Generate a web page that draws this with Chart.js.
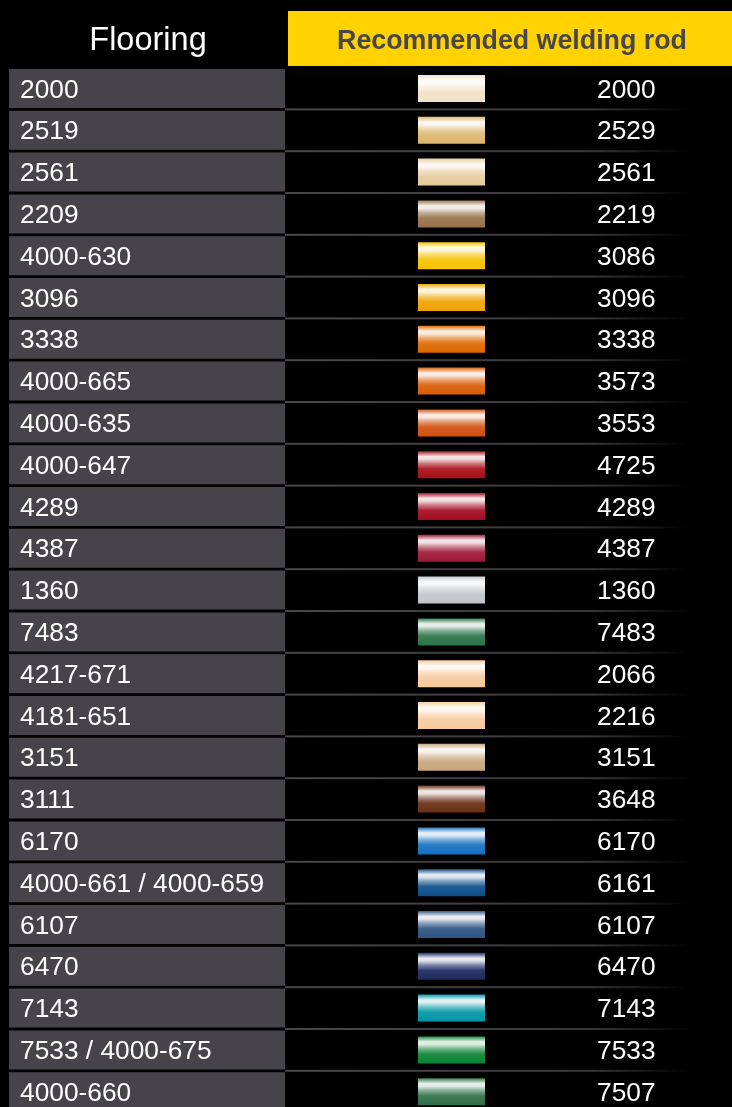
<!DOCTYPE html>
<html><head><meta charset="utf-8">
<script src="https://cdn.jsdelivr.net/npm/chart.js@4/dist/chart.umd.min.js"></script>
<style>html,body{margin:0;padding:0;background:#000;overflow:hidden}#wrap{position:relative;width:732px;height:1113px}canvas{display:block}</style>
</head><body><div id="wrap"><canvas id="c" width="732" height="1113"></canvas></div>
<script>
// ---- data ----
const headerLeft = 'Flooring';
const headerRight = 'Recommended welding rod';
const flooring = ['2000','2519','2561','2209','4000-630','3096','3338','4000-665','4000-635','4000-647','4289','4387','1360','7483','4217-671','4181-651','3151','3111','6170','4000-661 / 4000-659','6107','6470','7143','7533 / 4000-675','4000-660'];
const rods = ['2000','2529','2561','2219','3086','3096','3338','3573','3553','4725','4289','4387','1360','7483','2066','2216','3151','3648','6170','6161','6107','6470','7143','7533','7507'];
const rodColors = ['#f1e2c8','#dcb66e','#e6cb9d','#98714b','#f6c200','#efa300','#de6800','#d85d06','#d2500e','#a80f18','#a40b22','#9e1839','#c3c6c9','#2a7447','#f7c99c','#f7ca9e','#c8a67c','#6a2e13','#1570bf','#0c4e8b','#2d5484','#1b2960','#0096a6','#0a8334','#2e6f48'];

// ---- layout (not data) ----
const L = {cellL: 9, cellR: 285, swL: 418, swR: 485, numX: 597, labelX: 20,
  headTop: 11, headBot: 66, headL: 288, headR: 732};

function hexToRgb(h){h=h.replace('#','');return [0,2,4].map(i=>parseInt(h.substr(i,2),16));}
function mixWhite(hex,t){const c=hexToRgb(hex);return 'rgb('+c.map(v=>Math.round(v+(255-v)*t)).join(',')+')';}

function swatchFill(ctx){
  if(ctx.type!=='data') return '#888';
  const chart=ctx.chart, y=chart.scales.y;
  if(!y || !chart.chartArea) return rodColors[ctx.dataIndex];
  const c=y.getPixelForValue(ctx.dataIndex);
  const top=c-13.5, bot=c+13.5;
  const g=chart.ctx.createLinearGradient(0,top,0,bot);
  const base=rodColors[ctx.dataIndex];
  const stops=[[0,0.05],[0.07,0.35],[0.2,0.9],[0.3,0.85],[0.45,0.45],[0.65,0.08],[1,0]];
  stops.forEach(s=>g.addColorStop(s[0],mixWhite(base,s[1])));
  return g;
}

const tablePlugin = {
  id:'table',
  beforeDatasetsDraw(chart){
    const ctx=chart.ctx, y=chart.scales.y;
    ctx.save();
    // header
    ctx.fillStyle='#ffd200';
    ctx.fillRect(L.headL,L.headTop,L.headR-L.headL,L.headBot-L.headTop);
    ctx.fillStyle='#ffffff';
    ctx.font='32.5px "Liberation Sans", Arial, sans-serif';
    ctx.textAlign='center'; ctx.textBaseline='alphabetic';
    ctx.fillText(headerLeft,148,50);
    ctx.fillStyle='#48464a';
    ctx.font='bold 26.8px "Liberation Sans", Arial, sans-serif';
    ctx.fillText(headerRight,512,49);
    // separators
    const pitch = y.getPixelForValue(1)-y.getPixelForValue(0);
    const grad=ctx.createLinearGradient(L.cellR,0,690,0);
    grad.addColorStop(0,'#49474b');
    grad.addColorStop(0.75,'#3a383b');
    grad.addColorStop(1,'#000000');
    ctx.fillStyle=grad;
    for(let i=0;i<flooring.length;i++){
      const b=y.getPixelForValue(i)+pitch/2;
      ctx.fillRect(L.cellR,b-1,690-L.cellR,2);
    }
    ctx.restore();
  },
  afterDatasetsDraw(chart){
    const ctx=chart.ctx, y=chart.scales.y;
    ctx.save();
    ctx.fillStyle='#ffffff';
    ctx.font='26.3px "Liberation Sans", Arial, sans-serif';
    ctx.textAlign='left'; ctx.textBaseline='alphabetic';
    flooring.forEach((t,i)=>{
      const c=y.getPixelForValue(i);
      ctx.fillText(t,L.labelX,c+9);
      ctx.fillText(rods[i],L.numX,c+9);
    });
    ctx.restore();
  }
};

new Chart(document.getElementById('c'),{
  type:'bar',
  data:{
    labels:flooring,
    datasets:[
      {label:'Flooring',data:flooring.map(()=>[L.cellL,L.cellR]),backgroundColor:'#46444a',barThickness:39,grouped:false,borderWidth:0,inflateAmount:0,order:2},
      {label:'Welding rod',data:rods.map(()=>[L.swL,L.swR]),backgroundColor:swatchFill,barThickness:27,grouped:false,borderWidth:0,inflateAmount:0,order:1}
    ]
  },
  options:{
    indexAxis:'y',
    responsive:false,
    animation:false,
    layout:{padding:{top:67.6,bottom:0.4,left:0,right:0}},
    scales:{
      x:{type:'linear',min:0,max:732,display:false},
      y:{type:'category',display:false,offset:true}
    },
    plugins:{legend:{display:false},tooltip:{enabled:false}}
  },
  plugins:[tablePlugin]
});
</script></body></html>
